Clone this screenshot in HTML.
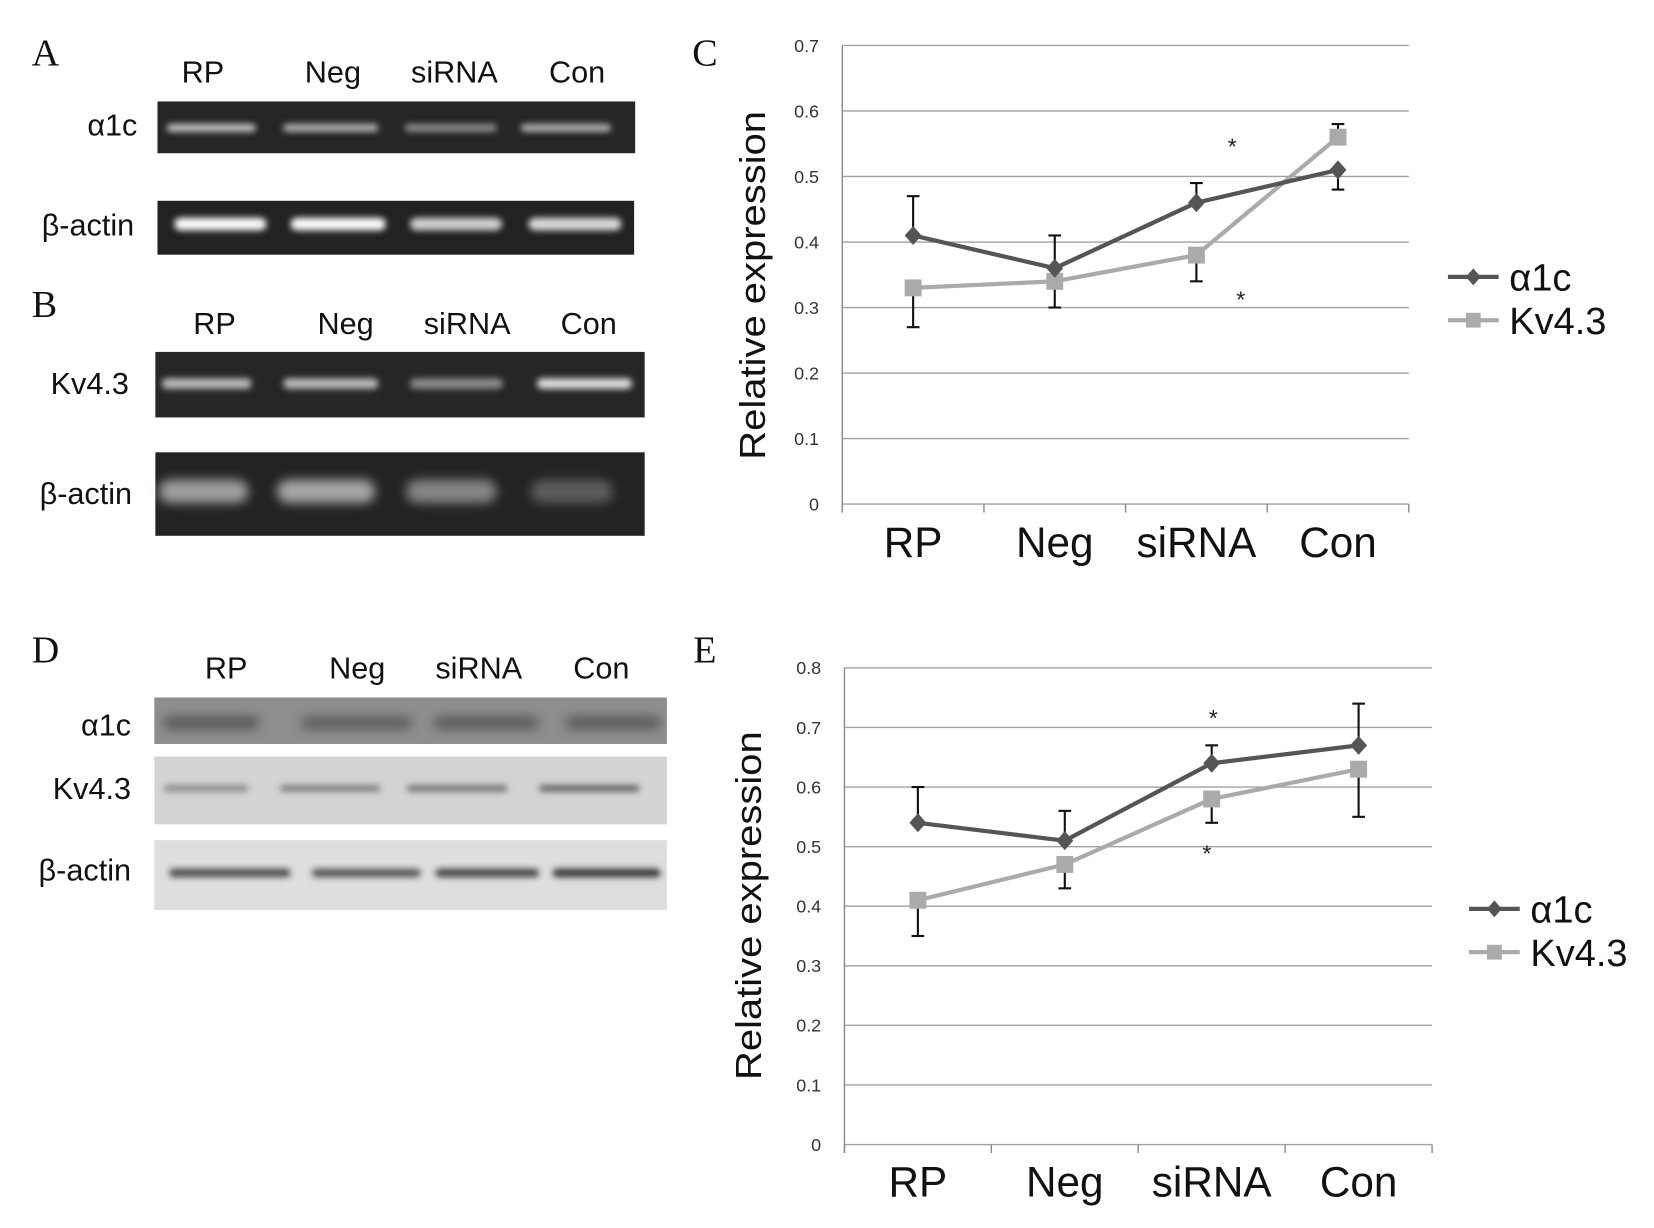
<!DOCTYPE html>
<html><head><meta charset="utf-8"><style>
html,body{margin:0;padding:0;background:#fff;}
svg{display:block;font-family:"Liberation Sans",sans-serif;}
</style></head><body>
<svg id="fig" xmlns="http://www.w3.org/2000/svg" width="1654" height="1228" viewBox="0 0 1565 1162" preserveAspectRatio="none">
<defs>
<filter id="blur3" x="-20%" y="-200%" width="140%" height="500%"><feGaussianBlur stdDeviation="3"/></filter>
<filter id="blur5" x="-20%" y="-200%" width="140%" height="500%"><feGaussianBlur stdDeviation="5"/></filter>
</defs>
<rect width="1565" height="1162" fill="#fff"/>
<g id="blots"></g>
<g id="chartC"></g>
<g id="chartE"></g>
</svg>
<script>
const categories = ["RP","Neg","siRNA","Con"];
const cA1c = [0.41,0.36,0.46,0.51];
const cA1cErr = [0.06,0.05,0.03,0.03];
const cA1cDir = [1,1,1,-1];
const cKv = [0.33,0.34,0.38,0.56];
const cKvErr = [0.06,0.04,0.04,0.02];
const cKvDir = [-1,-1,-1,1];
const cTicks = ["0","0.1","0.2","0.3","0.4","0.5","0.6","0.7"];
const eA1c = [0.54,0.51,0.64,0.67];
const eA1cErr = [0.06,0.05,0.03,0.07];
const eA1cDir = [1,1,1,1];
const eKv = [0.41,0.47,0.58,0.63];
const eKvErr = [0.06,0.04,0.04,0.08];
const eKvDir = [-1,-1,-1,-1];
const eTicks = ["0","0.1","0.2","0.3","0.4","0.5","0.6","0.7","0.8"];
const NS="http://www.w3.org/2000/svg";
function mk(parent,tag,attrs,text){const e=document.createElementNS(NS,tag);for(const k in attrs)e.setAttribute(k,attrs[k]);if(text!==undefined)e.textContent=text;parent.appendChild(e);return e;}

// ---------- blots ----------
const B=document.getElementById('blots');
function label(x,y,t,size,anchor,serif,name){const e=mk(B,'text',{x:x,y:y,'font-size':size,'text-anchor':anchor||'start','font-family':serif?'"Liberation Serif",serif':'"Liberation Sans",sans-serif',fill:'#111'},t);

return e;}
function headers(y,xs,prefix){categories.forEach((c,i)=>{label(xs[i],y,c,29,'middle',false,prefix+'-lane-'+c.toLowerCase());});}
function gel(x,y,w,h,bg,bands,bandColor,by,bh,name,blur){
 const g=mk(B,'g',{});
 
 
 mk(g,'rect',{x:x,y:y,width:w,height:h,fill:bg});
 bands.forEach(b=>{mk(g,'rect',{x:b[0],y:by-bh/2,width:b[1]-b[0],height:bh,rx:bh/2,fill:bandColor,opacity:b[2],filter:'url(#'+(blur||'blur3')+')'});});
}
label(30,62,'A',36,'start',true,'panel-a-letter');
headers(78,[192,315,430,546],'a');
label(130,128,'α1c',29,'end',false,'a-row-alpha1c');
label(127,223,'β-actin',29,'end',false,'a-row-bactin');
gel(149,96,452,49,'#262626',[[158,242,0.85],[268,358,0.75],[383,470,0.55],[493,578,0.75]],'#e8e8e8',121,7,'blot-a-alpha1c');
gel(149,190,451,51,'#222',[[165,252,1],[275,365,1],[388,475,0.8],[500,588,0.85]],'#fafafa',212,12,'blot-a-bactin');
label(30,300,'B',36,'start',true,'panel-b-letter');
headers(316,[203,327,442,557],'b');
label(122,373,'Kv4.3',29,'end',false,'b-row-kv43');
label(125,477,'β-actin',29,'end',false,'b-row-bactin');
gel(147,333,463,62,'#262626',[[153,238,0.8],[268,358,0.8],[388,476,0.55],[508,598,1]],'#e0e0e0',363,10,'blot-b-kv43');
gel(147,428,463,79,'#232323',[[150,235,0.75],[262,355,0.8],[384,470,0.6],[502,580,0.35]],'#c8c8c8',465,22,'blot-b-bactin','blur5');
label(30,627,'D',36,'start',true,'panel-d-letter');
headers(642,[214,338,453,569],'d');
label(124,696,'α1c',29,'end',false,'d-row-alpha1c');
label(124,756,'Kv4.3',29,'end',false,'d-row-kv43');
label(124,833,'β-actin',29,'end',false,'d-row-bactin');
gel(146,660,485,44,'#8e8e8e',[[155,245,0.8],[285,390,0.7],[410,510,0.75],[535,625,0.75]],'#4a4a4a',684,12,'blot-d-alpha1c','blur5');
gel(146,716,485,64,'#d3d3d3',[[155,235,0.6],[265,360,0.7],[385,480,0.8],[510,605,0.95]],'#555',746,6,'blot-d-kv43');
gel(146,795,485,66,'#dedede',[[160,275,0.85],[295,398,0.8],[412,510,0.9],[523,625,1]],'#333',826,8,'blot-d-bactin');

// ---------- charts ----------
function chart(id,cfg){
 const G=document.getElementById(id);
 const x0=cfg.x0,x1=cfg.x1,y0=cfg.y0,yTop=cfg.yTop,max=cfg.max;
 const yS=v=>y0-(v/max)*(y0-yTop);
 const slot=(x1-x0)/categories.length;
 const xS=i=>x0+slot*(i+0.5);
 const lt=mk(G,'text',{x:cfg.letter[0],y:cfg.letter[1],'font-size':36,'font-family':'"Liberation Serif",serif',fill:'#111'},cfg.letterText);
 
 
 cfg.ticks.forEach((t,i)=>{
  const v=i*max/(cfg.ticks.length-1);
  const gl=mk(G,'line',{x1:x0,x2:x1,y1:yS(v),y2:yS(v),stroke:'#a0a0a0','stroke-width':1.3});
  
  
  const tl=mk(G,'text',{x:x0-22,y:yS(v)+6,'font-size':17,'text-anchor':'end',fill:'#333'},t);
  
  
 });
 const ax=mk(G,'line',{x1:x0,x2:x0,y1:yTop,y2:y0+8,stroke:'#888','stroke-width':1.3});
 
 
 for(let i=0;i<=categories.length;i++){
  const tk=mk(G,'line',{x1:x0+slot*i,x2:x0+slot*i,y1:y0,y2:y0+8,stroke:'#888','stroke-width':1.3});
  
  
 }
 categories.forEach((c,i)=>{
  const xl=mk(G,'text',{x:xS(i),y:cfg.xLabelY,'font-size':40,'text-anchor':'middle',fill:'#111'},c);
  
  
 });
 const yt=mk(G,'text',{x:0,y:0,'font-size':34,'text-anchor':'middle',fill:'#111',transform:`translate(${cfg.yTitle[0]},${cfg.yTitle[1]}) rotate(-90)`,textLength:330,lengthAdjust:'spacingAndGlyphs'},'Relative expression');
 
 
 function errs(vals,err,dirs,name){
  vals.forEach((v,i)=>{
   const e=mk(G,'g',{stroke:'#111','stroke-width':2});
   
   
   const ye=yS(v+dirs[i]*err[i]);
   mk(e,'line',{x1:xS(i),x2:xS(i),y1:yS(v),y2:ye});
   mk(e,'line',{x1:xS(i)-6,x2:xS(i)+6,y1:ye,y2:ye});
  });
 }
 errs(cfg.a1c,cfg.a1cErr,cfg.a1cDir,'alpha1c');
 errs(cfg.kv,cfg.kvErr,cfg.kvDir,'kv43');
 function series(vals,color,shape,name){
  const pl=mk(G,'polyline',{points:vals.map((v,i)=>xS(i)+','+yS(v)).join(' '),fill:'none',stroke:color,'stroke-width':4,'stroke-linejoin':'round'});
  
  
  vals.forEach((v,i)=>{
   const x=xS(i),y=yS(v);let m;
   if(shape==='d') m=mk(G,'polygon',{points:`${x},${y-9} ${x+8},${y} ${x},${y+9} ${x-8},${y}`,fill:color});
   else m=mk(G,'rect',{x:x-8,y:y-8,width:16,height:16,fill:color});
   
   
  });
 }
 series(cfg.kv,'#aaaaaa','s','kv43');
 series(cfg.a1c,'#555555','d','alpha1c');
 cfg.stars.forEach(s=>{
  const st=mk(G,'text',{x:s[0],y:s[1]+9,'font-size':22,'text-anchor':'middle',fill:'#222'},'*');
  
  
 });
 const L=cfg.legend;
 const lg=mk(G,'g',{});
 
 
 const e1=mk(lg,'g',{});
 
 
 mk(e1,'line',{x1:L[0],x2:L[0]+48,y1:L[1],y2:L[1],stroke:'#555','stroke-width':4});
 mk(e1,'polygon',{points:`${L[0]+24},${L[1]-8} ${L[0]+31},${L[1]} ${L[0]+24},${L[1]+8} ${L[0]+17},${L[1]}`,fill:'#555'});
 mk(e1,'text',{x:L[0]+58,y:L[1]+13,'font-size':36,fill:'#111'},'α1c');
 const e2=mk(lg,'g',{});
 
 
 mk(e2,'line',{x1:L[0],x2:L[0]+48,y1:L[1]+41,y2:L[1]+41,stroke:'#aaa','stroke-width':4});
 mk(e2,'rect',{x:L[0]+17,y:L[1]+34,width:14,height:14,fill:'#aaa'});
 mk(e2,'text',{x:L[0]+58,y:L[1]+54,'font-size':36,fill:'#111'},'Kv4.3');
}
chart('chartC',{x0:797,x1:1333,y0:477,yTop:43,max:0.7,ticks:cTicks,a1c:cA1c,a1cErr:cA1cErr,a1cDir:cA1cDir,kv:cKv,kvErr:cKvErr,kvDir:cKvDir,
 letter:[655,62],letterText:'C',xLabelY:527,yTitle:[724,270],stars:[[1166,137],[1174,282]],legend:[1370,262]});
chart('chartE',{x0:799,x1:1355,y0:1083,yTop:632,max:0.8,ticks:eTicks,a1c:eA1c,a1cErr:eA1cErr,a1cDir:eA1cDir,kv:eKv,kvErr:eKvErr,kvDir:eKvDir,
 letter:[656,627],letterText:'E',xLabelY:1132,yTitle:[720,857],stars:[[1148,678],[1142,806]],legend:[1390,860]});
</script>
</body></html>
